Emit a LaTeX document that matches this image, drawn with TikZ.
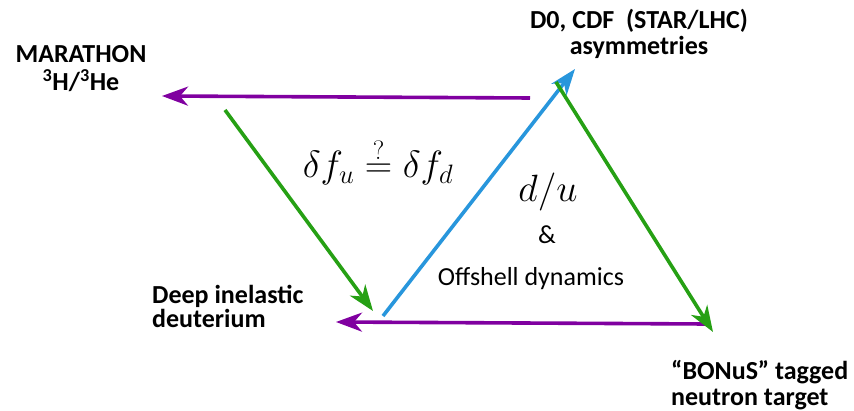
\RequirePackage{fix-cm}
\documentclass[tikz,border=0pt]{standalone}
\usepackage{amsmath}
\usepackage[no-math]{fontspec}
\setmainfont{Carlito}
\usetikzlibrary{arrows.meta,positioning,calc}
\definecolor{LinkPurple}{RGB}{128,0,160}
\definecolor{LinkGreen}{RGB}{38,160,20}
\definecolor{LinkBlue}{RGB}{40,150,220}

\begin{document}
\begin{tikzpicture}[x=1pt,y=-1pt,
    link/.style={line width=3.6pt,-{Stealth[length=26pt,width=19pt,inset=8pt]}},
    exptbox/.style={font=\fontsize{26}{#1}\selectfont\bfseries,align=center,inner sep=0pt,anchor=base},
    mathbox/.style={font=\fontsize{38}{40}\selectfont,inner sep=0pt,anchor=base},
    plainbox/.style={font=\fontsize{26}{28}\selectfont,inner sep=0pt,anchor=base}]
  \useasboundingbox (0,0) rectangle (854,411);
  % experiments at the corners (placed by the baseline of the last line)
  \node[exptbox=28] (marathon) at (81,91) {MARATHON\\\textsuperscript{3}H/\textsuperscript{3}He};
  \node[exptbox=26] (dzero) at (639,55) {D0, CDF~~(STAR/LHC)\\asymmetries};
  \node[exptbox=24,align=left,anchor=base west] (dis) at (152,328) {Deep inelastic\\deuterium};
  \node[exptbox=26,align=left,anchor=base west] (bonus) at (671,406) {``BONuS'' tagged\\neutron target};
  % physics in the middle
  \node[mathbox] (offsh) at (378,178) {$\delta f_u \stackrel{?}{=} \delta f_d$};
  \node[mathbox] (ratio) at (548,202) {$d/u$};
  \node[plainbox] (amp) at (547,244) {\&};
  \node[plainbox] (dyn) at (531,286) {Offshell dynamics};
  % arrow ends
  \coordinate (topR) at (530,98);
  \coordinate (topL) at (162,96);
  \coordinate (lftA) at (225,110);
  \coordinate (lftB) at (373,311);
  \coordinate (botR) at (706,324);
  \coordinate (botL) at (336,322);
  \coordinate (bluA) at (383,316);
  \coordinate (bluB) at (575,69);
  \coordinate (rgtA) at (556,82);
  \coordinate (rgtB) at (713,332);
  \draw[link,LinkPurple] (topR) -- (topL);
  \draw[link,LinkGreen] (lftA) -- (lftB);
  \draw[link,LinkPurple] (botR) -- (botL);
  \draw[link,LinkBlue] (bluA) -- (bluB);
  \draw[link,LinkGreen] (rgtA) -- (rgtB);
\end{tikzpicture}
\end{document}
